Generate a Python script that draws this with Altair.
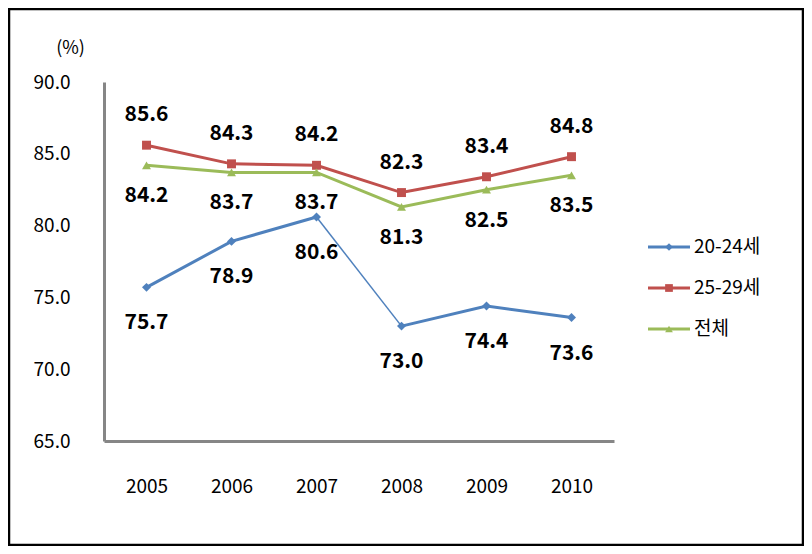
import altair as alt
import pandas as pd

years = ["2005", "2006", "2007", "2008", "2009", "2010"]
series_names = ["20-24세", "25-29세", "전체"]
v_2024 = [75.7, 78.9, 80.6, 73.0, 74.4, 73.6]
v_2529 = [85.6, 84.3, 84.2, 82.3, 83.4, 84.8]
v_total = [84.2, 83.7, 83.7, 81.3, 82.5, 83.5]
colors = ["#4F81BD", "#C0504D", "#9BBB59"]
shapes = ["diamond", "square", "triangle-up"]

values = [v_2024, v_2529, v_total]
rows = []
for name, vals in zip(series_names, values):
    for i, (yr, v) in enumerate(zip(years, vals)):
        seg = "all"
        if name == "20-24세":
            seg = "a" if i <= 2 else "b"
        rows.append({"year": yr, "series": name, "value": v, "seg": seg, "idx": i})
df = pd.DataFrame(rows)

FONT = "Noto Sans CJK KR"
W, H = 510, 359

xenc = alt.X("year:N", sort=years, scale=alt.Scale(type="point", padding=0.5),
             axis=alt.Axis(title=None, labelAngle=0, ticks=False, domainColor="#868686",
                           domainWidth=3, labelPadding=36, labelFontSize=19,
                           labelColor="#000000", labelFont=FONT))
yenc = alt.Y("value:Q", scale=alt.Scale(domain=[65, 90], nice=False, zero=False),
             axis=alt.Axis(title="(%)", values=[65, 70, 75, 80, 85, 90], format=".1f",
                           grid=False, ticks=False, domainColor="#868686", domainWidth=3,
                           labelPadding=34, labelFontSize=19, labelColor="#000000",
                           labelFont=FONT, titleAngle=0, titleX=-34, titleY=-34,
                           titleAlign="center", titleBaseline="middle",
                           titleFontWeight="normal", titleFontSize=18, titleFont=FONT,
                           titleColor="#000000"))
color = alt.Color("series:N", scale=alt.Scale(domain=series_names, range=colors), legend=None)
shape = alt.Shape("series:N", scale=alt.Scale(domain=series_names, range=shapes), legend=None)

base = alt.Chart(df)

lines = base.mark_line(strokeWidth=3).encode(x=xenc, y=yenc, color=color, detail="seg:N")
thin = base.mark_line(strokeWidth=1.5).encode(x=xenc, y=yenc, color=color).transform_filter(
    (alt.datum.series == "20-24세") & ((alt.datum.year == "2007") | (alt.datum.year == "2008"))
)
points = base.mark_point(filled=True, opacity=1, size=80).encode(x=xenc, y=yenc, color=color, shape=shape)

dys = {"20-24세": 36, "25-29세": -30, "전체": 31}
texts = []
for name in series_names:
    texts.append(
        base.mark_text(fontSize=21, fontWeight="bold", font=FONT, color="#000000",
                       dy=dys[name], baseline="middle")
        .encode(x=xenc, y=yenc, text=alt.Text("value:Q", format=".1f"))
        .transform_filter(alt.datum.series == name)
    )

# legend
leg = []
one = pd.DataFrame({"k": [0]})
for i, (name, c, sh) in enumerate(zip(series_names, colors, shapes)):
    yy = 165 + i * 41
    leg.append(alt.Chart(one).mark_rule(color=c, strokeWidth=3).encode(
        x=alt.value(544), x2=alt.value(586), y=alt.value(yy)))
    leg.append(alt.Chart(one).mark_point(shape=sh, filled=True, opacity=1, color=c, size=60).encode(
        x=alt.value(565), y=alt.value(yy)))
    leg.append(alt.Chart(one).mark_text(text=name, align="left", baseline="middle", fontSize=19,
                                        font=FONT, color="#000000").encode(
        x=alt.value(590), y=alt.value(yy)))

border = alt.Chart(one).mark_rect(fill=None, stroke="#000000", strokeWidth=2.5).encode(
    x=alt.value(-95), x2=alt.value(699), y=alt.value(-73), y2=alt.value(463))

chart = alt.layer(lines, thin, points, *texts, *leg, border).properties(
    width=W, height=H,
    autosize=alt.AutoSizeParams(type="none"),
    padding={"left": 96, "top": 74, "right": 190, "bottom": 105},
).configure(background="#ffffff", view=alt.ViewConfig(stroke=None))

chart.save("out.html", embed_options={"renderer": "svg", "actions": False})
